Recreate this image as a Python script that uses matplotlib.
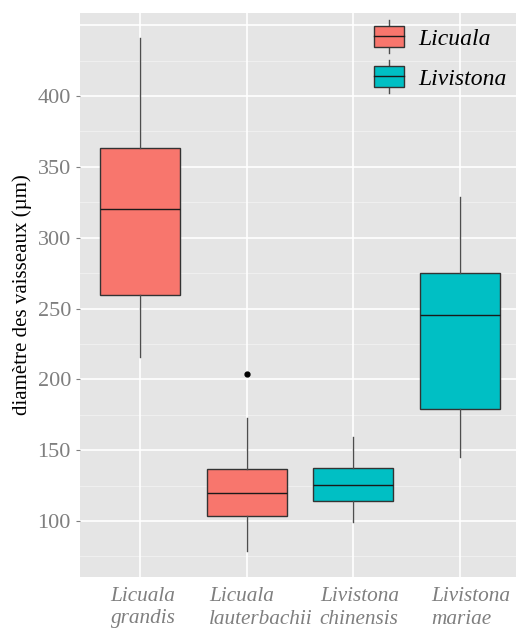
import numpy as np
import matplotlib.pyplot as plt
import matplotlib.transforms as mtransforms
from matplotlib.patches import Patch
from matplotlib.legend_handler import HandlerBase
import matplotlib.patches as mpatches
import matplotlib.lines as mlines

plt.rcParams['font.family'] = ['Liberation Serif', 'DejaVu Serif']

species = ["Licuala\ngrandis", "Licuala\nlauterbachii", "Livistona\nchinensis", "Livistona\nmariae"]
genus = ["Licuala", "Licuala", "Livistona", "Livistona"]
whislo = [216, 78.5, 99.5, 145]
q1 = [259.5, 103.5, 114, 179]
med = [320, 120, 125.3, 245.5]
q3 = [363, 137, 137.5, 275]
whishi = [441, 172.5, 159, 329]
outliers = [[], [204], [], []]

colors = {"Licuala": "#F8766D", "Livistona": "#00BFC4"}

stats = []
for i in range(len(species)):
    stats.append(dict(whislo=whislo[i], q1=q1[i], med=med[i], q3=q3[i],
                      whishi=whishi[i], fliers=outliers[i]))

fig = plt.figure(figsize=(5.16, 6.32), dpi=100)
# panel runs past the right edge of the picture (cropped)
ax = fig.add_axes([80/516, 55/632, 440/516, 564/632])
ax.set_facecolor("#E5E5E5")

# grid
for v in np.arange(75, 460, 50):
    ax.axhline(v, color="#F2F2F2", lw=0.6, zorder=0)
for v in np.arange(100, 460, 50):
    ax.axhline(v, color="white", lw=1.2, zorder=0)
pos = np.arange(1, len(species) + 1)
for p in pos:
    ax.axvline(p, color="white", lw=1.2, zorder=0)

bp = ax.bxp(stats, positions=pos, widths=0.75, patch_artist=True, showcaps=False,
            boxprops=dict(edgecolor="#333333", linewidth=1.0),
            medianprops=dict(color="#1a1a1a", linewidth=1.0),
            whiskerprops=dict(color="#4d4d4d", linewidth=1.0),
            flierprops=dict(marker="o", markerfacecolor="black", markeredgecolor="black",
                            markersize=3.5))
for patch, g in zip(bp["boxes"], genus):
    patch.set_facecolor(colors[g])
    patch.set_zorder(2)

ax.set_xlim(0.4375, 4.5625)
ax.set_ylim(60.5, 458.6)
ax.set_yticks(np.arange(100, 401, 50))
ax.set_xticks(pos)
ax.set_xticklabels([])
# category labels, a little right of the tick as in the original
shifts = [3, 14, 6, 11]
for p, name, dx in zip(pos, species, shifts):
    off = mtransforms.ScaledTranslation(dx / 100, -10 / 100, fig.dpi_scale_trans)
    ax.text(p, 0, name, transform=ax.get_xaxis_transform() + off, ha="center", va="top",
            fontstyle="italic", fontsize=15.3, color="#7F7F7F", linespacing=1.25,
            multialignment="left")
ax.tick_params(axis="y", labelsize=16, labelcolor="#7F7F7F", color="#7F7F7F", length=3)
ax.tick_params(axis="x", length=0)
for s in ax.spines.values():
    s.set_visible(False)
ax.set_ylabel("diamètre des vaisseaux (µm)", fontsize=15)


class BoxHandler(HandlerBase):
    def __init__(self, color):
        super().__init__()
        self.color = color

    def create_artists(self, legend, orig_handle, xdescent, ydescent, width, height, fontsize, trans):
        x0 = -xdescent
        y0 = -ydescent
        rect = mpatches.Rectangle((x0, y0), width, height,
                                  facecolor=self.color, edgecolor="#333333", lw=1.0, transform=trans)
        mid = mlines.Line2D([x0, x0 + width], [y0 + height * 0.5] * 2,
                            color="#1a1a1a", lw=1.0, transform=trans)
        cx = x0 + width / 2
        w1 = mlines.Line2D([cx, cx], [y0 + height, y0 + height * 1.3],
                           color="#4d4d4d", lw=1.0, transform=trans)
        w2 = mlines.Line2D([cx, cx], [y0 - height * 0.3, y0],
                           color="#4d4d4d", lw=1.0, transform=trans)
        return [w1, w2, rect, mid]


h1 = Patch(label="Licuala")
h2 = Patch(label="Livistona")
leg = fig.legend([h1, h2], ["Licuala", "Livistona"],
                 handler_map={h1: BoxHandler(colors["Licuala"]), h2: BoxHandler(colors["Livistona"])},
                 loc="upper right", bbox_to_anchor=(507/516, 1 - 26/632), frameon=False,
                 prop=dict(style="italic", size=17),
                 handlelength=1.31, handleheight=0.98, handletextpad=0.6,
                 labelspacing=0.7, borderpad=0, borderaxespad=0)

fig.savefig("out.png", dpi=100)
